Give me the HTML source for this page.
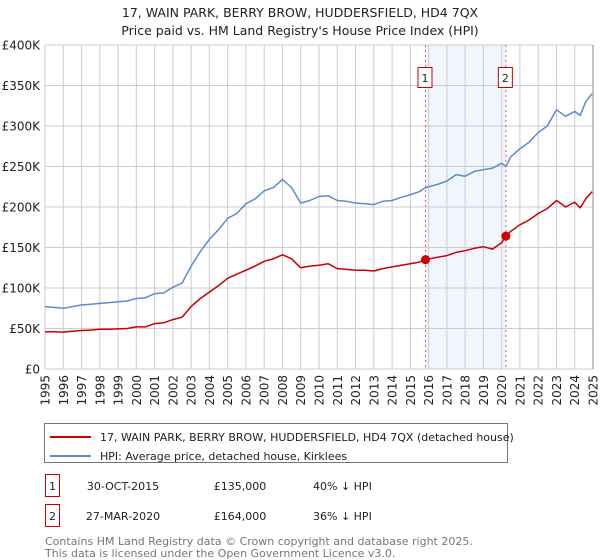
<!DOCTYPE html>
<html><head><meta charset="utf-8"><style>
body{margin:0;background:#fff;font-family:"Liberation Sans","DejaVu Sans",sans-serif;}
#wrap{position:relative;width:600px;height:560px;overflow:hidden;}
</style></head><body>
<div id="wrap">
<svg id="svg" width="600" height="560" xmlns="http://www.w3.org/2000/svg" font-family="DejaVu Sans, Liberation Sans, sans-serif">
<text x="300" y="17" text-anchor="middle" font-size="12.5" fill="#222">17, WAIN PARK, BERRY BROW, HUDDERSFIELD, HD4 7QX</text>
<text x="300" y="35" text-anchor="middle" font-size="12.5" fill="#222">Price paid vs. HM Land Registry's House Price Index (HPI)</text>
<g id="plot"></g>
<rect x="44.5" y="423.5" width="463" height="39" fill="#fff" stroke="#777"/>
<line x1="50" y1="437" x2="91" y2="437" stroke="#cc0000" stroke-width="2"/>
<text x="100" y="441" font-size="11" fill="#222">17, WAIN PARK, BERRY BROW, HUDDERSFIELD, HD4 7QX (detached house)</text>
<line x1="50" y1="456" x2="91" y2="456" stroke="#5b8bd0" stroke-width="2"/>
<text x="100" y="460" font-size="11" fill="#222">HPI: Average price, detached house, Kirklees</text>
<rect x="45.5" y="474.5" width="14" height="22" fill="#fff" stroke="#cc0000"/>
<text x="52.5" y="490" text-anchor="middle" font-size="11" fill="#222">1</text>
<text x="123" y="490" text-anchor="middle" font-size="11" fill="#222">30-OCT-2015</text>
<text x="240" y="490" text-anchor="middle" font-size="11" fill="#222">£135,000</text>
<text x="313" y="490" font-size="11" fill="#222">40% ↓ HPI</text>
<rect x="45.5" y="504.5" width="14" height="22" fill="#fff" stroke="#cc0000"/>
<text x="52.5" y="520" text-anchor="middle" font-size="11" fill="#222">2</text>
<text x="123" y="520" text-anchor="middle" font-size="11" fill="#222">27-MAR-2020</text>
<text x="240" y="520" text-anchor="middle" font-size="11" fill="#222">£164,000</text>
<text x="313" y="520" font-size="11" fill="#222">36% ↓ HPI</text>
<text x="45" y="545" font-size="11" fill="#777">Contains HM Land Registry data © Crown copyright and database right 2025.</text>
<text x="45" y="557" font-size="11" fill="#777">This data is licensed under the Open Government Licence v3.0.</text>
</svg>
</div>
<script>
const yTicks=[0,50,100,150,200,250,300,350,400];
const yTickLabels=["£0","£50K","£100K","£150K","£200K","£250K","£300K","£350K","£400K"];
const xTicks=[1995,1996,1997,1998,1999,2000,2001,2002,2003,2004,2005,2006,2007,2008,2009,2010,2011,2012,2013,2014,2015,2016,2017,2018,2019,2020,2021,2022,2023,2024,2025];
const hpiYears=[1995,1995.5,1996,1996.5,1997,1997.5,1998,1998.5,1999,1999.5,2000,2000.5,2001,2001.5,2002,2002.5,2003,2003.5,2004,2004.5,2005,2005.5,2006,2006.5,2007,2007.5,2008,2008.5,2009,2009.5,2010,2010.5,2011,2011.5,2012,2012.5,2013,2013.5,2014,2014.5,2015,2015.5,2015.83,2016.5,2017,2017.5,2018,2018.5,2019,2019.5,2020,2020.23,2020.5,2021,2021.5,2022,2022.5,2023,2023.5,2024,2024.3,2024.6,2024.95];
const hpiValues=[77,76,75,77,79,80,81,82,83,84,87,88,93,94,101,106,127,145,160,172,186,192,204,210,220,224,234,224,205,208,213,214,208,207,205,204,203,207,208,212,215,219,224,228,232,240,238,244,246,248,254,250,262,272,280,292,300,320,312,318,313,330,340];
const priceYears=[1995,1995.5,1996,1996.5,1997,1997.5,1998,1998.5,1999,1999.5,2000,2000.5,2001,2001.5,2002,2002.5,2003,2003.5,2004,2004.5,2005,2005.5,2006,2006.5,2007,2007.5,2008,2008.5,2009,2009.5,2010,2010.5,2011,2011.5,2012,2012.5,2013,2013.5,2014,2014.5,2015,2015.5,2015.83,2016.5,2017,2017.5,2018,2018.5,2019,2019.5,2020,2020.23,2020.5,2021,2021.5,2022,2022.5,2023,2023.5,2024,2024.3,2024.6,2024.95];
const priceValues=[46,46,45.5,46.5,47.5,48,49,49,49.5,50,52,52,56,57,61,64,77,87,95,103,112,117,122,127,133,136,141,136,125,127,128,130,124,123,122,122,121,124,126,128,130,132,135,138,140,144,146,149,151,148,156,164,170,178,184,192,198,208,200,206,199,210,219];
const saleYears=[2015.83,2020.23];
const saleValues=[135,164];
const saleLabels=["1","2"];

const X0=45,X1=593,Y0=369,YT=45;
const xs=y=>X0+(y-1995)/30*(X1-X0);
const ys=v=>Y0-v/400*(Y0-YT);
const NS="http://www.w3.org/2000/svg";
const g=document.getElementById('plot');
function mk(t,a){const e=document.createElementNS(NS,t);for(const k in a)e.setAttribute(k,a[k]);g.appendChild(e);return e;}

const band=mk('rect',{x:xs(saleYears[0]),y:YT,width:xs(saleYears[1])-xs(saleYears[0]),height:Y0-YT,fill:'#eef3fc',opacity:0.8});


yTicks.forEach((v,i)=>{
  const l=mk('line',{x1:X0,x2:X1,y1:ys(v),y2:ys(v),stroke:'#ccc','stroke-width':1});
  
  
  const t=mk('text',{x:X0-5,y:ys(v)+4.5,'text-anchor':'end','font-size':12,fill:'#222'});
  t.textContent=yTickLabels[i];
  
  
});
xTicks.forEach(yr=>{
  const l=mk('line',{x1:xs(yr),x2:xs(yr),y1:YT,y2:Y0,stroke:'#ccc','stroke-width':1});
  
  
  const x=xs(yr),y=Y0+6;
  const t=mk('text',{x:x+4.5,y:y,'text-anchor':'end','font-size':12,fill:'#222',transform:`rotate(-90 ${x+4.5} ${y})`});
  t.textContent=yr;
  
  
});
const ax=mk('line',{x1:X1,x2:X1,y1:YT,y2:Y0,stroke:'#888','stroke-width':1});


saleYears.forEach((yr,i)=>{
  const l=mk('line',{x1:xs(yr),x2:xs(yr),y1:YT,y2:Y0,stroke:'#e06060','stroke-width':1,'stroke-dasharray':'2,3'});
  
  
  const r=mk('rect',{x:xs(yr)-7.5,y:67.5,width:14,height:20,fill:'#fff',stroke:'#cc0000'});
  
  
  const t=mk('text',{x:xs(yr)-0.5,y:82,'text-anchor':'middle','font-size':11,fill:'#222'});
  t.textContent=saleLabels[i];
  
  
});
function line(xa,va,col,name){
  const d=xa.map((x,i)=>(i?'L':'M')+xs(x).toFixed(1)+','+ys(va[i]).toFixed(1)).join('');
  const p=mk('path',{d:d,fill:'none',stroke:col,'stroke-width':1.5,'stroke-linejoin':'round'});
  
  
}
line(hpiYears,hpiValues,'#5b8bd0','hpi-line');
line(priceYears,priceValues,'#cc0000','price-line');
saleYears.forEach((yr,i)=>{
  const c=mk('circle',{cx:xs(yr),cy:ys(saleValues[i]),r:4.5,fill:'#cc0000'});
  
  
});
</script>
</body></html>
